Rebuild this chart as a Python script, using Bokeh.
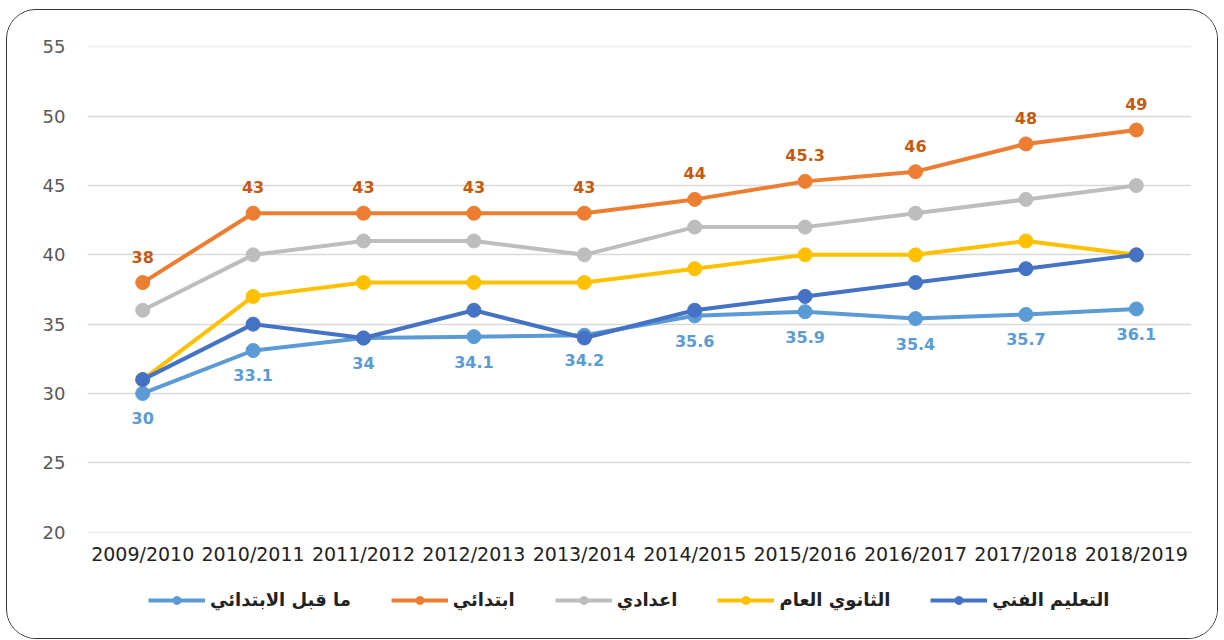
from bokeh.plotting import figure
from bokeh.models import ColumnDataSource, Legend, LegendItem, FixedTicker, Range1d, Column
from bokeh.core.properties import value
from bokeh.embed import file_html
from bokeh.resources import INLINE

years = ["2009/2010", "2010/2011", "2011/2012", "2012/2013", "2013/2014",
         "2014/2015", "2015/2016", "2016/2017", "2017/2018", "2018/2019"]

pre_primary = [30, 33.1, 34, 34.1, 34.2, 35.6, 35.9, 35.4, 35.7, 36.1]
primary = [38, 43, 43, 43, 43, 44, 45.3, 46, 48, 49]
preparatory = [36, 40, 41, 41, 40, 42, 42, 43, 44, 45]
general_secondary = [31, 37, 38, 38, 38, 39, 40, 40, 41, 40]
technical = [31, 35, 34, 36, 34, 36, 37, 38, 39, 40]

series_names = ["ما قبل الابتدائي", "ابتدائي", "اعدادي", "الثانوي العام", "التعليم الفني"]
series_values = [pre_primary, primary, preparatory, general_secondary, technical]
series_colors = ["#5B9BD5", "#ED7D31", "#BDBDBD", "#FFC000", "#4472C4"]

y_ticks = [20, 25, 30, 35, 40, 45, 50, 55]

def fmt(v):
    return str(int(v)) if float(v).is_integer() else str(v)

p = figure(x_range=years, y_range=Range1d(19.97, 55.03), width=1210, height=570,
           output_backend="svg", toolbar_location=None,
           min_border_left=80, min_border_right=26, min_border_top=36,
           min_border_bottom=48)
p.outline_line_color = None
p.background_fill_color = "white"
p.border_fill_color = "white"

p.xgrid.grid_line_color = None
p.ygrid.grid_line_color = "#D9D9D9"
p.ygrid.grid_line_width = 1.5
p.yaxis.ticker = FixedTicker(ticks=y_ticks)

for ax in (p.xaxis[0], p.yaxis[0]):
    ax.axis_line_color = None
    ax.major_tick_line_color = None
    ax.minor_tick_line_color = None
    ax.major_tick_out = 0
    ax.major_tick_in = 0
    ax.major_label_text_font = "DejaVu Sans"

p.xaxis.major_label_text_font_size = "19px"
p.xaxis.major_label_text_color = "#222222"
p.xaxis.major_label_standoff = 10
p.yaxis.major_label_text_font_size = "18px"
p.yaxis.major_label_text_color = "#595959"
p.yaxis.major_label_standoff = 22

# legend-only figure underneath (its series lie outside its visible range)
lf = figure(width=1210, height=58, output_backend="svg", toolbar_location=None,
            x_range=years, y_range=Range1d(0, 1),
            min_border=0, x_axis_type=None, y_axis_type=None)
lf.outline_line_color = None
lf.xgrid.visible = False
lf.ygrid.visible = False
lf.border_fill_color = "white"
lf.background_fill_color = "white"

items = []
for name, vals, col in zip(series_names, series_values, series_colors):
    src = ColumnDataSource(dict(x=years, y=vals))
    p.line("x", "y", source=src, line_color=col, line_width=4)
    p.scatter("x", "y", source=src, size=14, fill_color=col, line_color=col)
    l1 = lf.line("x", "y", source=src, line_color=col, line_width=4)
    l2 = lf.scatter("x", "y", source=src, size=13, fill_color=col, line_color=col)
    items.append(LegendItem(label=name, renderers=[l1, l2]))

# data labels
src_pri = ColumnDataSource(dict(x=years, y=primary, t=[fmt(v) for v in primary]))
p.text("x", "y", text="t", source=src_pri, text_align="center", text_baseline="middle",
       y_offset=-26, text_font=value("DejaVu Sans"), text_font_style="bold",
       text_font_size="16px", text_color="#C55A11")
src_pre = ColumnDataSource(dict(x=years, y=pre_primary, t=[fmt(v) for v in pre_primary]))
p.text("x", "y", text="t", source=src_pre, text_align="center", text_baseline="middle",
       y_offset=25, text_font=value("DejaVu Sans"), text_font_style="bold",
       text_font_size="16px", text_color="#5B9BD5")

legend = Legend(items=items, orientation="horizontal", location=(61, 28),
                glyph_width=57, glyph_height=20, label_standoff=5, spacing=40,
                label_text_font="DejaVu Sans", label_text_font_size="18px",
                label_text_font_style="bold",
                label_text_color="#222222", border_line_color=None,
                background_fill_alpha=0, padding=4, margin=0)
lf.add_layout(legend, "center")

layout = Column(p, lf, spacing=0, margin=(9, 0, 0, 6),
                styles={"border": "1.5px solid #333333", "border-radius": "30px",
                        "overflow": "hidden", "background": "white"})

open("out.html", "w").write(file_html(layout, INLINE))
